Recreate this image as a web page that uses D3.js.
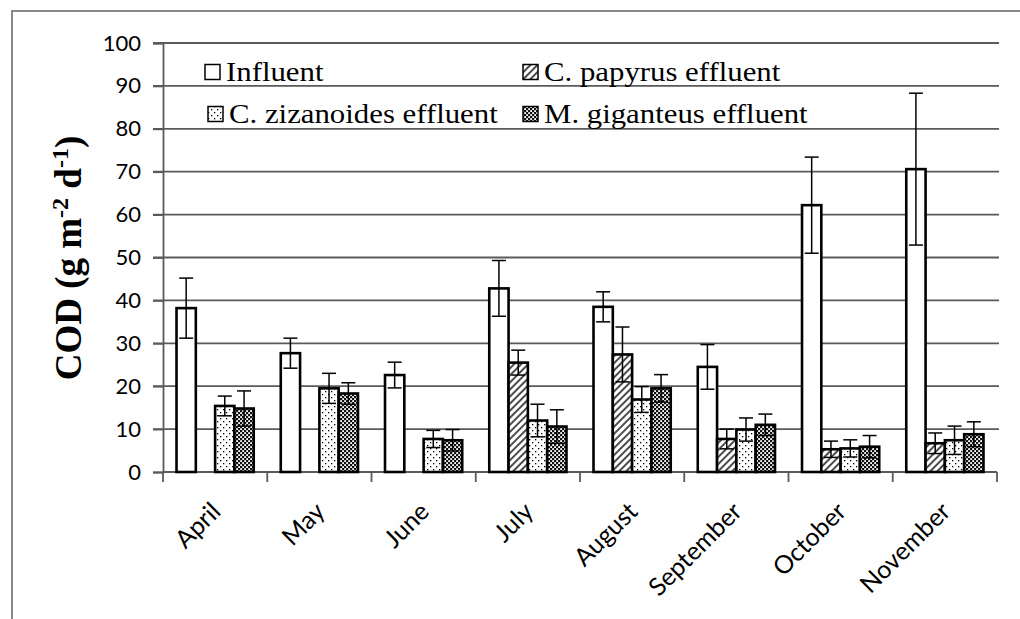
<!DOCTYPE html>
<html>
<head>
<meta charset="utf-8">
<script src="https://cdn.jsdelivr.net/npm/d3@7"></script>
<style>
  html, body { margin: 0; padding: 0; background: #fff; }
  svg { display: block; }
</style>
</head>
<body>
<svg id="chart" width="1020" height="619"></svg>
<script>
// Monthly COD loading (g m-2 d-1): mean and standard deviation per stream
const months = ["April", "May", "June", "July", "August", "September", "October", "November"];
const seriesNames = ["Influent", "C. papyrus effluent", "C. zizanoides effluent", "M. giganteus effluent"];
const influent = [38.2, 27.7, 22.6, 42.8, 38.5, 24.5, 62.2, 70.6];
const influentSd = [7.0, 3.5, 3.0, 6.5, 3.5, 5.2, 11.2, 17.7];
const papyrus = [null, null, null, 25.5, 27.4, 7.7, 5.3, 6.7];
const papyrusSd = [null, null, null, 2.9, 6.4, 2.3, 1.9, 2.4];
const zizanoides = [15.4, 19.5, 7.7, 12.0, 16.9, 9.9, 5.5, 7.4];
const zizanoidesSd = [2.3, 3.5, 2.0, 3.8, 3.0, 2.7, 2.0, 3.3];
const giganteus = [14.8, 18.3, 7.4, 10.6, 19.5, 11.0, 5.9, 8.8];
const giganteusSd = [4.1, 2.5, 2.5, 3.9, 3.2, 2.5, 2.6, 2.9];
const yTicks = [0, 10, 20, 30, 40, 50, 60, 70, 80, 90, 100];

const seriesValues = [influent, papyrus, zizanoides, giganteus];
const seriesSd = [influentSd, papyrusSd, zizanoidesSd, giganteusSd];
const fills = ["#fff", "url(#hatch)", "url(#dots)", "url(#check)"];

const svg = d3.select("#chart");
const plot = { left: 163, right: 997, top: 43, bottom: 472 };
const gridColor = "#5a5a5a";

// Fill patterns
const defs = svg.append("defs");
const hatch = defs.append("pattern").attr("id", "hatch")
  .attr("patternUnits", "userSpaceOnUse").attr("width", 5).attr("height", 5)
  .attr("patternTransform", "rotate(45)");
hatch.append("rect").attr("width", 5).attr("height", 5).attr("fill", "#fff");
hatch.append("line").attr("x1", 1).attr("y1", 0).attr("x2", 1).attr("y2", 5)
  .attr("stroke", "#000").attr("stroke-width", 1.4);

const dots = defs.append("pattern").attr("id", "dots")
  .attr("patternUnits", "userSpaceOnUse").attr("width", 6).attr("height", 6);
dots.append("rect").attr("width", 6).attr("height", 6).attr("fill", "#fff");
dots.append("rect").attr("x", 1).attr("y", 1).attr("width", 1.3).attr("height", 1.3).attr("fill", "#000");
dots.append("rect").attr("x", 4).attr("y", 4).attr("width", 1.3).attr("height", 1.3).attr("fill", "#000");

const check = defs.append("pattern").attr("id", "check")
  .attr("patternUnits", "userSpaceOnUse").attr("width", 4).attr("height", 4);
check.append("rect").attr("width", 4).attr("height", 4).attr("fill", "#111");
check.append("rect").attr("x", 0.2).attr("y", 0.2).attr("width", 1.8).attr("height", 1.8).attr("fill", "#fff");
check.append("rect").attr("x", 2.2).attr("y", 2.2).attr("width", 1.8).attr("height", 1.8).attr("fill", "#fff");

// Outer frame
svg.append("rect").attr("x", 12).attr("y", 11).attr("width", 1100).attr("height", 700)
  .attr("fill", "none").attr("stroke", "#888").attr("stroke-width", 2);

// Scales
const x = d3.scaleBand().domain(months).range([plot.left, plot.right]).padding(0);
const xs = d3.scaleBand().domain(d3.range(4)).range([0, x.bandwidth()]).paddingInner(0).paddingOuter(0.7);
const y = d3.scaleLinear().domain([0, 100]).range([plot.bottom, plot.top]);

// Gridlines with outward tick marks
svg.append("g").selectAll("line").data(yTicks.filter(d => d > 0)).join("line")
  .attr("x1", plot.left - 10).attr("x2", plot.right + 2)
  .attr("y1", d => y(d)).attr("y2", d => y(d))
  .attr("stroke", gridColor).attr("stroke-width", 1.8);

// Y axis
const yAxis = svg.append("g").attr("transform", `translate(${plot.left},0)`)
  .call(d3.axisLeft(y).tickValues(yTicks).tickSize(10).tickPadding(12));
yAxis.select(".domain").attr("stroke", gridColor).attr("stroke-width", 1.8);
yAxis.selectAll(".tick line").attr("stroke", gridColor).attr("stroke-width", 1.8);
yAxis.selectAll(".tick text").attr("font-family", "Lato, sans-serif").attr("font-size", 22)
  .attr("fill", "#000");

// X axis: line plus ticks at category boundaries
svg.append("line").attr("x1", plot.left).attr("x2", plot.right)
  .attr("y1", plot.bottom).attr("y2", plot.bottom)
  .attr("stroke", gridColor).attr("stroke-width", 1.8);
const bounds = months.map(m => x(m)).concat([x(months[months.length - 1]) + x.bandwidth()]);
svg.append("g").selectAll("line").data(bounds).join("line")
  .attr("x1", d => d).attr("x2", d => d).attr("y1", plot.bottom).attr("y2", plot.bottom + 10)
  .attr("stroke", gridColor).attr("stroke-width", 1.8);

// Month labels, rotated
svg.append("g").selectAll("text").data(months).join("text")
  .attr("transform", d => `translate(${x(d) + x.bandwidth() / 2},${plot.bottom + 34}) rotate(-45)`)
  .attr("text-anchor", "end").attr("dominant-baseline", "central")
  .attr("font-family", "Lato, sans-serif").attr("font-size", 25).attr("fill", "#000")
  .text(d => d);

// Bars
const barData = [];
seriesValues.forEach((vals, s) => vals.forEach((v, i) => {
  if (v != null) barData.push({ s, month: months[i], v, sd: seriesSd[s][i] });
}));

const bars = svg.append("g");
bars.selectAll("rect").data(barData).join("rect")
  .attr("x", d => x(d.month) + xs(d.s))
  .attr("y", d => y(d.v))
  .attr("width", xs.bandwidth())
  .attr("height", d => y(0) - y(d.v))
  .attr("fill", d => fills[d.s])
  .attr("stroke", "#000").attr("stroke-width", 2.6);

// Error bars (mean ± SD)
const err = svg.append("g").attr("stroke", "#000").attr("stroke-width", 1.5);
barData.forEach(d => {
  const cx = x(d.month) + xs(d.s) + xs.bandwidth() / 2;
  err.append("line").attr("x1", cx).attr("x2", cx).attr("y1", y(d.v + d.sd)).attr("y2", y(d.v - d.sd));
  err.append("line").attr("x1", cx - 7).attr("x2", cx + 7).attr("y1", y(d.v + d.sd)).attr("y2", y(d.v + d.sd));
  err.append("line").attr("x1", cx - 7).attr("x2", cx + 7).attr("y1", y(d.v - d.sd)).attr("y2", y(d.v - d.sd));
});

// Y axis title
const title = svg.append("text")
  .attr("transform", "translate(81,258) rotate(-90)")
  .attr("text-anchor", "middle")
  .attr("font-family", "'Liberation Serif', 'Times New Roman', serif")
  .attr("font-weight", "bold").attr("font-size", 37).attr("fill", "#000");
title.append("tspan").text("COD (g m");
title.append("tspan").attr("dy", -13).attr("font-size", 24).text("-2");
title.append("tspan").attr("dy", 13).text(" d");
title.append("tspan").attr("dy", -13).attr("font-size", 24).text("-1");
title.append("tspan").attr("dy", 13).text(")");

// Legend in two columns
const legendPos = [[205, 72], [523, 72], [208, 114], [523, 114]];
const legend = svg.append("g");
seriesNames.forEach((name, i) => {
  const [lx, ly] = legendPos[i];
  legend.append("rect").attr("x", lx).attr("y", ly - 7.5).attr("width", 15).attr("height", 15)
    .attr("fill", fills[i]).attr("stroke", "#000").attr("stroke-width", 1.5);
  legend.append("text")
    .attr("transform", `translate(${lx + 21},${ly + 9}) scale(1.1,1)`)
    .attr("font-family", "'Liberation Serif', 'Times New Roman', serif")
    .attr("font-size", 28).attr("fill", "#000")
    .text(name);
});
</script>
</body>
</html>
